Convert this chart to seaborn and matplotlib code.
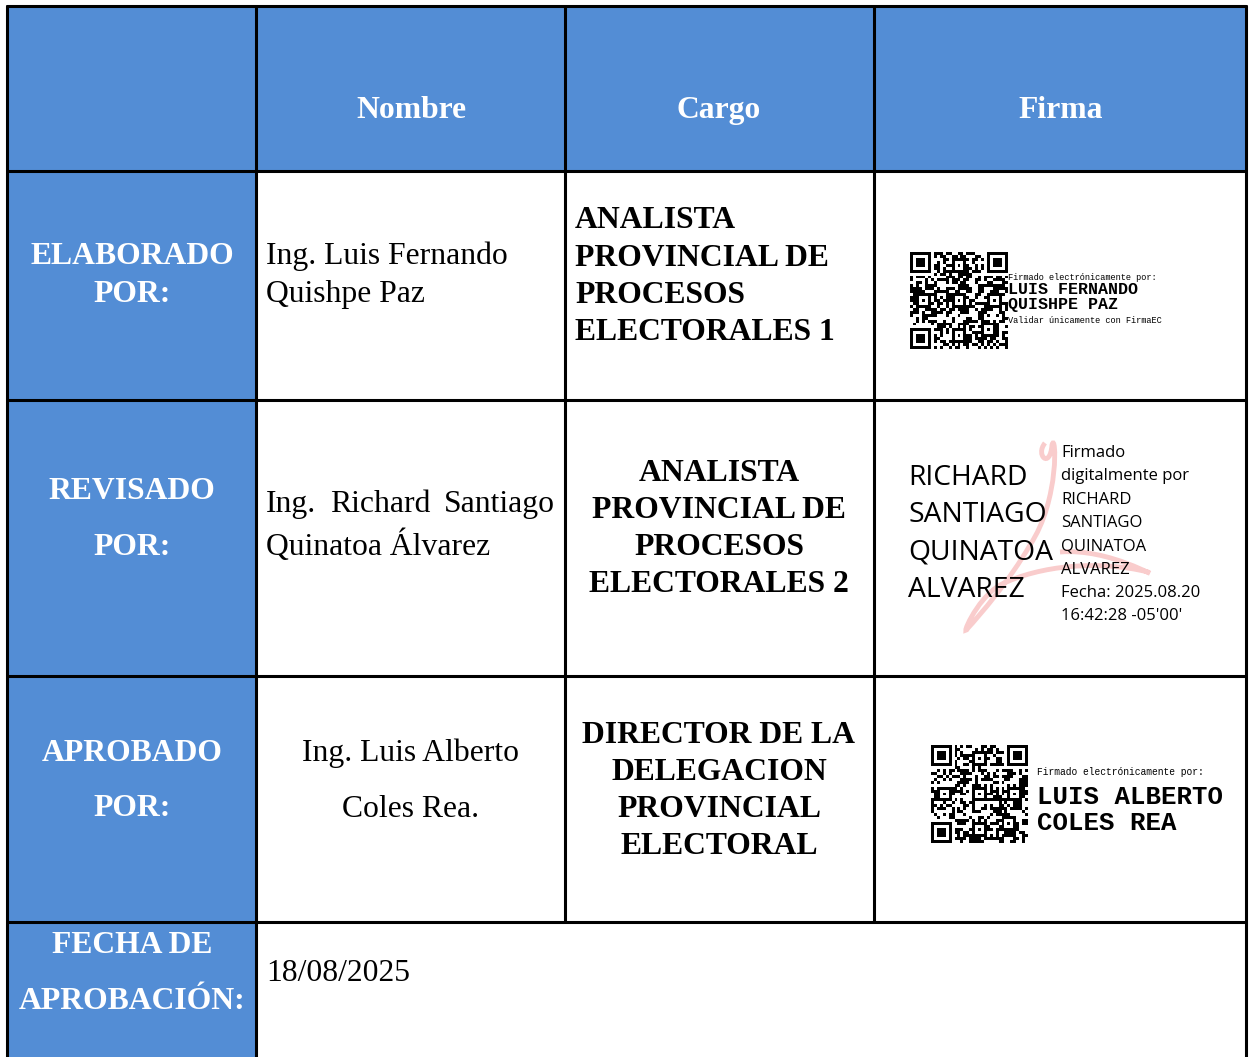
import hashlib
import numpy as np
import seaborn as sns
import matplotlib.pyplot as plt
from matplotlib.colors import ListedColormap
from matplotlib.path import Path
from matplotlib.patches import Rectangle, PathPatch

# Datos de la tabla
encabezados = ["Nombre", "Cargo", "Firma"]
etiquetas = [["ELABORADO", "POR:"], ["REVISADO", "POR:"], ["APROBADO", "POR:"],
             ["FECHA DE", "APROBACIÓN:"]]
nombres = [["Ing. Luis Fernando", "Quishpe Paz"],
           ["Ing. Richard Santiago", "Quinatoa Álvarez"],
           ["Ing. Luis Alberto", "Coles Rea."]]
cargos = [["ANALISTA", "PROVINCIAL DE", "PROCESOS", "ELECTORALES 1"],
          ["ANALISTA", "PROVINCIAL DE", "PROCESOS", "ELECTORALES 2"],
          ["DIRECTOR DE LA", "DELEGACION", "PROVINCIAL", "ELECTORAL"]]
firmante_1 = ["LUIS FERNANDO", "QUISHPE PAZ"]
firmante_2 = ["RICHARD", "SANTIAGO", "QUINATOA", "ALVAREZ"]
firmante_3 = ["LUIS ALBERTO", "COLES REA"]
fecha_firma_2 = ["Fecha: 2025.08.20", "16:42:28 -05'00'"]
fecha_aprobacion = "18/08/2025"

AZUL = "#538DD5"
W, H = 1254, 1057
serif = "Liberation Serif"
mono = "Liberation Mono"
sans = "Open Sans"
FS = 22.8

sns.set_style("white")
fig = plt.figure(figsize=(W / 100, H / 100), dpi=100)
ax = fig.add_axes([0, 0, 1, 1])
ax.set_xlim(0, W)
ax.set_ylim(H, 0)
ax.axis("off")

cols = [7, 256, 565, 874, 1246]
rows = [6, 171, 400, 676, 922, H + 5]

# fondos
ax.add_patch(Rectangle((cols[0], rows[0]), cols[-1] - cols[0], rows[1] - rows[0], color=AZUL, zorder=0))
ax.add_patch(Rectangle((cols[0], rows[0]), cols[1] - cols[0], rows[-1] - rows[0], color=AZUL, zorder=0))

# lineas
lw = 2.2
ax.plot([cols[0], cols[-1]], [rows[0], rows[0]], color="black", lw=lw)
for y in rows[1:5]:
    ax.plot([cols[0], cols[-1]], [y, y], color="black", lw=lw)
for x in [cols[0], cols[1], cols[-1]]:
    ax.plot([x, x], [rows[0], rows[-1]], color="black", lw=lw)
for x in cols[2:4]:
    ax.plot([x, x], [rows[0], rows[4]], color="black", lw=lw)


def texto(x, y, t, **kw):
    opts = dict(va="baseline", color="black", fontsize=FS, family=serif)
    opts.update(kw)
    ax.text(x, y, t, **opts)


# encabezados
for x, t in zip([411, 719, 1061], encabezados):
    texto(x, 118, t, ha="center", color="white", fontweight="bold")

# etiquetas columna 1
bases_etiq = [(264, 302), (499, 555), (761, 816), (953, 1009)]
for (b1, b2), (l1, l2) in zip(bases_etiq, etiquetas):
    texto(132, b1, l1, ha="center", color="white", fontweight="bold")
    texto(132, b2, l2, ha="center", color="white", fontweight="bold")

# nombres
texto(266, 264, nombres[0][0], ha="left")
texto(266, 302, nombres[0][1], ha="left")
w1 = nombres[1][0].split()
texto(266, 512, w1[0], ha="left")
texto(380, 512, w1[1], ha="center")
texto(555, 512, w1[2], ha="right")
texto(266, 555, nombres[1][1], ha="left")
texto(411, 761, nombres[2][0], ha="center")
texto(411, 817, nombres[2][1], ha="center")

# cargos
bases_cargo = [[228, 266, 303, 340], [481, 518, 555, 592], [743, 780, 817, 854]]
for i, (bs, lineas) in enumerate(zip(bases_cargo, cargos)):
    for b, t in zip(bs, lineas):
        if i == 0:
            texto(575, b, t, ha="left", fontweight="bold")
        else:
            texto(719, b, t, ha="center", fontweight="bold")

texto(266, 981, fecha_aprobacion, ha="left")


# codigos QR (patron derivado del texto del firmante)
def matriz_qr(txt, n=33):
    bits = []
    for i in range(6):
        d = hashlib.sha256((txt + str(i)).encode()).digest()
        for byte in d:
            bits.extend((byte >> k) & 1 for k in range(8))
    m = np.array(bits[:n * n]).reshape(n, n)

    def finder(r, c):
        m[max(r - 1, 0):r + 8, max(c - 1, 0):c + 8] = 0
        m[r:r + 7, c:c + 7] = 1
        m[r + 1:r + 6, c + 1:c + 6] = 0
        m[r + 2:r + 5, c + 2:c + 5] = 1

    def alinea(r, c):
        m[r - 2:r + 3, c - 2:c + 3] = 1
        m[r - 1:r + 2, c - 1:c + 2] = 0
        m[r, c] = 1

    for r, c in [(0, 0), (0, n - 7), (n - 7, 0)]:
        finder(r, c)
    for r, c in [(16, 16), (n - 7, n - 7), (4, 16), (16, 4), (16, n - 5), (n - 5, 16)]:
        alinea(r, c)
    return m


def dibujar_qr(txt, x0, y0, x1, y1):
    qa = fig.add_axes([x0 / W, 1 - y1 / H, (x1 - x0) / W, (y1 - y0) / H])
    sns.heatmap(matriz_qr(txt), cmap=ListedColormap(["white", "black"]), cbar=False,
                xticklabels=False, yticklabels=False, ax=qa)
    qa.axis("off")


dibujar_qr(" ".join(firmante_1), 910, 252, 1008, 349)
dibujar_qr(" ".join(firmante_3), 931, 745, 1028, 843)

texto(1008, 280, "Firmado electrónicamente por:", fontsize=6.2, family=mono)
texto(1008, 294, firmante_1[0], fontsize=12, family=mono, fontweight="bold")
texto(1008, 309, firmante_1[1], fontsize=12, family=mono, fontweight="bold")
texto(1008, 323, "Validar únicamente con FirmaEC", fontsize=6.2, family=mono)

texto(1037, 775, "Firmado electrónicamente por:", fontsize=6.9, family=mono)
texto(1037, 804, firmante_3[0], fontsize=18.5, family=mono, fontweight="bold")
texto(1037, 830, firmante_3[1], fontsize=18.5, family=mono, fontweight="bold")

# firma digital con logotipo
verts = [(1045, 443), (1035, 455), (1050, 470), (1052, 445),
         (1056, 430), (1060, 500), (1030, 545),
         (1010, 580), (980, 615), (968, 628),
         (960, 640), (975, 600), (1000, 585),
         (1040, 565), (1100, 560), (1148, 572),
         (1160, 580), (1110, 548), (1060, 552)]
codes = [Path.MOVETO] + [Path.CURVE4] * 18
ax.add_patch(PathPatch(Path(verts, codes), fill=False, edgecolor="#f9cccc", lw=3.5, zorder=1))

for b, t in zip([485, 522, 560, 597], firmante_2):
    texto(908, b, t, fontsize=20.3, family=sans, zorder=3)
pequeno = ["Firmado", "digitalmente por"] + firmante_2 + fecha_firma_2
for i, t in enumerate(pequeno):
    texto(1061, 457 + i * 23.3, t, fontsize=12, family=sans, zorder=3)

fig.savefig("out.png", dpi=100)
